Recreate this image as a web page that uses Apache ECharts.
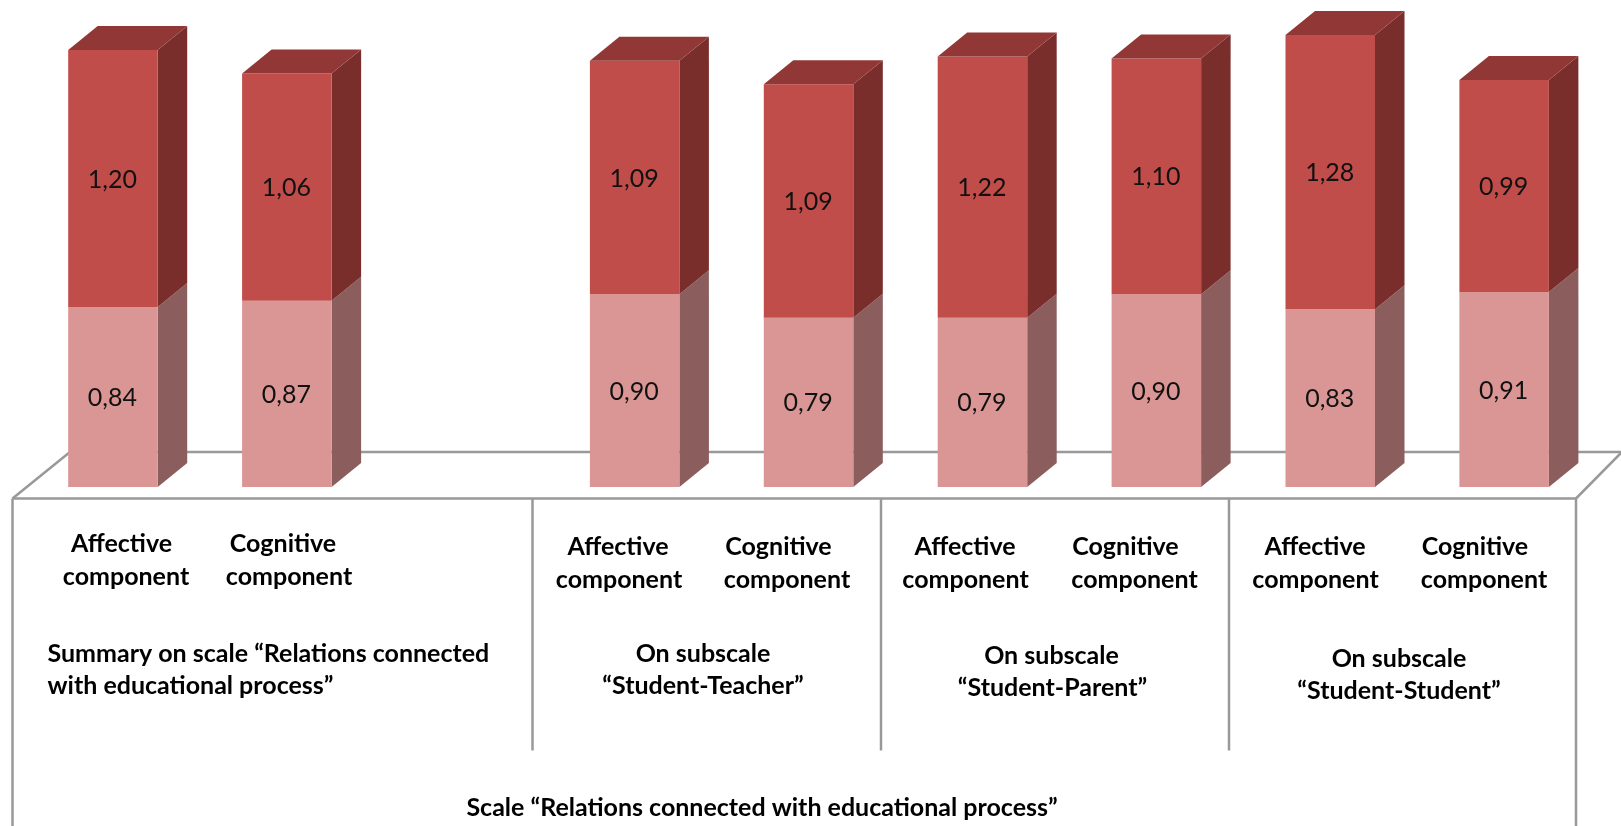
<!DOCTYPE html>
<html>
<head>
<meta charset="utf-8">
<style>html,body{margin:0;padding:0;background:#fff}#chart{width:1621px;height:826px}</style>
<script src="https://cdn.jsdelivr.net/npm/echarts@6/dist/echarts.min.js"></script>
</head>
<body>
<div id="chart"></div>
<script>
// One slot per bar; the empty slot separates the summary pair from the subscales.
const slots = ['Affective', 'Cognitive', '', 'Affective', 'Cognitive', 'Affective', 'Cognitive', 'Affective', 'Cognitive'];
const lowerValues = [0.84, 0.87, null, 0.90, 0.79, 0.79, 0.90, 0.83, 0.91];
const upperValues = [1.20, 1.06, null, 1.09, 1.09, 1.22, 1.10, 1.28, 0.99];

const lineLabels = ['Affective', 'component', 'Cognitive'];
const groupLabels = [
  'Summary on scale \u201cRelations connected', 'with educational process\u201d',
  'On subscale', '\u201cStudent-Teacher\u201d', '\u201cStudent-Parent\u201d', '\u201cStudent-Student\u201d',
  'Scale \u201cRelations connected with educational process\u201d'
];

// Extrusion of the pseudo-3D bars, in pixels.
const DEPTH_X = 29.5, DEPTH_Y = 24;
const BAR_RATIO = 0.5147;

const lowerStyle = { front: '#DA9694', side: '#8B5D5D' };
const upperStyle = { front: '#C04D4A', side: '#7A2E2C', top: '#913836' };
const frameColor = '#999999';
const textColor = '#000';
const bold = 'bold 25px Lato, sans-serif';

function rows(values, bases) {
  const out = [];
  values.forEach((v, i) => {
    if (v !== null) out.push([i, bases ? bases[i] : 0, v]);
  });
  return out;
}

function renderBar(style, params, api) {
  const i = api.value(0), base = api.value(1), val = api.value(2);
  const w = api.size([1, 0])[0] * BAR_RATIO;
  const c0 = api.coord([i, base]);
  const c1 = api.coord([i, base + val]);
  const l = c0[0] - w / 2, r = c0[0] + w / 2, y0 = c0[1], y1 = c1[1];
  const children = [
    { type: 'polygon', shape: { points: [[r, y0], [r + DEPTH_X, y0 - DEPTH_Y], [r + DEPTH_X, y1 - DEPTH_Y], [r, y1]] }, style: { fill: style.side } },
    { type: 'rect', shape: { x: l, y: y1, width: w, height: y0 - y1 }, style: { fill: style.front } }
  ];
  if (style.top) {
    children.push({ type: 'polygon', shape: { points: [[l, y1], [l + DEPTH_X, y1 - DEPTH_Y], [r + DEPTH_X, y1 - DEPTH_Y], [r, y1]] }, style: { fill: style.top } });
  }
  children.push({
    type: 'text',
    style: {
      x: c0[0] - 0.5, y: (y0 + y1) / 2 + 1,
      text: val.toFixed(2).replace('.', ','),
      fill: '#111', font: '25px Lato, sans-serif', align: 'center', verticalAlign: 'middle'
    }
  });
  return { type: 'group', children };
}

function line(x1, y1, x2, y2) {
  return { type: 'line', z: 0, shape: { x1, y1, x2, y2 }, style: { stroke: frameColor, lineWidth: 2.5 }, silent: true };
}
function label(text, x, y, align) {
  return { type: 'text', z: 1, style: { x, y, text, font: bold, fill: textColor, align: align || 'center', verticalAlign: 'middle' }, silent: true };
}

// Floor parallelogram and the divider lines of the category table.
const frame = [
  line(12.5, 498.5, 1576, 498.5),
  line(12.5, 498.5, 70, 452),
  line(70, 452, 1621, 452),
  line(1576, 498.5, 1621, 453),
  line(12.5, 498.5, 12.5, 826),
  line(1576, 498.5, 1576, 826),
  line(532.5, 498.5, 532.5, 750.5),
  line(881, 498.5, 881, 750.5),
  line(1229, 498.5, 1229, 750.5)
];

const [aff, comp, cog] = lineLabels;
const [sum1, sum2, sub, teacher, parent, student, scale] = groupLabels;
const texts = [
  label(aff, 121.5, 543.5), label(comp, 126, 576.5), label(cog, 283, 543.5), label(comp, 289, 576.5),
  label(aff, 618, 546.5), label(comp, 619, 579.5), label(cog, 778.5, 546.5), label(comp, 787, 579.5),
  label(aff, 965, 546.5), label(comp, 965.5, 579.5), label(cog, 1125.5, 546.5), label(comp, 1134.5, 579.5),
  label(aff, 1315, 546.5), label(comp, 1315.5, 579.5), label(cog, 1475, 546.5), label(comp, 1484, 579.5),
  label(sum1, 47.5, 654, 'left'), label(sum2, 47.5, 686, 'left'),
  label(sub, 703, 654), label(teacher, 703, 686),
  label(sub, 1051.5, 656), label(parent, 1052.5, 688),
  label(sub, 1399, 659), label(student, 1399, 691),
  label(scale, 762, 807.5)
];

const chart = echarts.init(document.getElementById('chart'), null, { renderer: 'canvas' });
chart.setOption({
  animation: false,
  backgroundColor: '#fff',
  grid: { left: 26, top: 5, width: 1565.1, height: 482 },
  xAxis: { type: 'category', data: slots, show: false },
  yAxis: { type: 'value', min: 0, max: 2.25, show: false },
  graphic: { elements: frame.concat(texts) },
  series: [
    {
      name: 'Lower segment', type: 'custom', clip: false, z: 2,
      renderItem: (p, api) => renderBar(lowerStyle, p, api),
      data: rows(lowerValues)
    },
    {
      name: 'Upper segment', type: 'custom', clip: false, z: 3,
      renderItem: (p, api) => renderBar(upperStyle, p, api),
      data: rows(upperValues, lowerValues)
    }
  ]
});
</script>
</body>
</html>
